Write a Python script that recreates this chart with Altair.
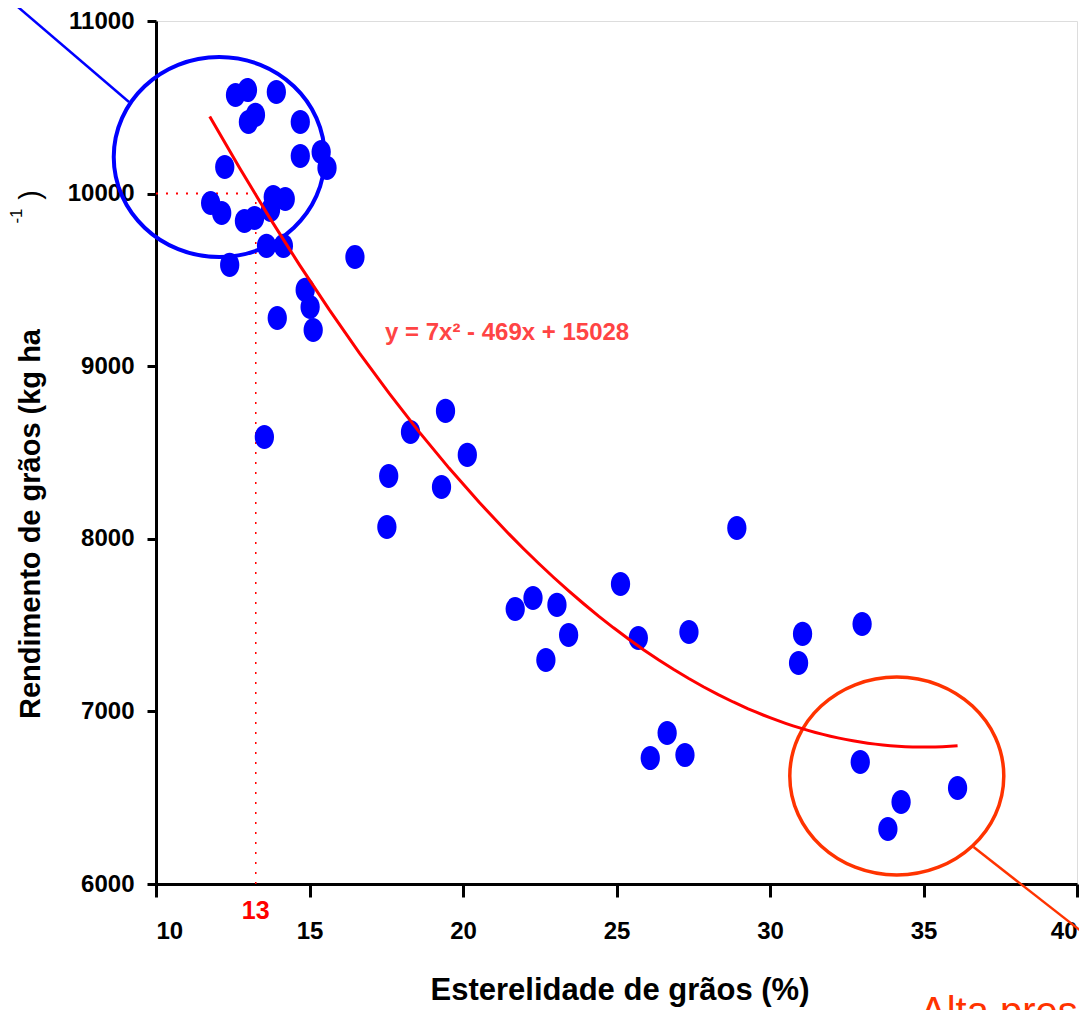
import altair as alt
import pandas as pd

# ---- data ----
esterilidade = [12.59, 12.98, 13.92, 13.01, 13.24, 14.70, 14.70, 15.38, 15.57, 12.24,
                11.78, 12.14, 12.88, 13.21, 13.82, 14.21, 13.73, 13.60, 14.15, 12.40,
                16.48, 14.86, 15.02, 15.12, 13.95, 13.53, 18.29, 19.43, 20.14, 17.58,
                17.52, 19.30, 28.92, 21.70, 22.28, 23.06, 23.44, 22.70, 25.13, 25.71,
                27.36, 26.65, 26.10, 27.23, 31.06, 30.93, 33.00, 32.94, 34.27, 33.84,
                36.11]
rendimento = [10571, 10600, 10589, 10415, 10456, 10415, 10218, 10241, 10149, 10154,
              9946, 9888, 9841, 9859, 9980, 9969, 9905, 9697, 9697, 9587,
              9633, 9442, 9343, 9210, 9279, 8590, 8619, 8741, 8486, 8364,
              8068, 8300, 8063, 7593, 7657, 7617, 7443, 7298, 7738, 7425,
              7460, 6875, 6730, 6747, 7449, 7280, 7506, 6707, 6475, 6319,
              6556]
x_ticks = [10, 15, 20, 25, 30, 35, 40]
y_ticks = [6000, 7000, 8000, 9000, 10000, 11000]
fit_extent = [11.75, 36.11]
ref_x = 13.25
ref_y = 10000
equation = "y = 7x² - 469x + 15028"
x_title = "Esterelidade de grãos (%)"
y_title = "Rendimento de grãos (kg ha"
bottom_note = "Alta pressão"

# annotation shapes (centres)
blue_circle = {"x": [12.06], "y": [10212]}
orange_circle = {"x": [34.13], "y": [6626]}
blue_link = {"x": [9.12], "y": [10531], "x2": [3.94], "y2": [11319]}
orange_link = {"x": [36.63], "y": [6214], "x2": [42.17], "y2": [5444]}

W, H = 921, 863
SANS = "Liberation Sans, Arial, sans-serif"

df = pd.DataFrame({"x": esterilidade, "y": rendimento})

xs = alt.Scale(domain=[10, 40], nice=False, zero=False)
ys = alt.Scale(domain=[6000, 11000], nice=False, zero=False)

x_axis = alt.Axis(values=x_ticks, title=None, grid=False, domainColor="black", domainWidth=3,
                  tickColor="black", tickWidth=3, tickSize=13, labelPadding=22,
                  labelFont=SANS, labelFontWeight="bold", labelFontSize=24, labelColor="black",
                  format="d")
y_axis = alt.Axis(values=y_ticks, title=None, grid=False, domainColor="black", domainWidth=3,
                  tickColor="black", tickWidth=3, tickSize=9, labelPadding=13,
                  labelFont=SANS, labelFontWeight="bold", labelFontSize=24, labelColor="black",
                  format="d")

ellipse_dot = "M -0.8 0 A 0.8 1 0 1 0 0.8 0 A 0.8 1 0 1 0 -0.8 0 Z"

points = alt.Chart(df).mark_point(shape=ellipse_dot, filled=True, size=580, color="#0000FF",
                                  opacity=1, clip=False).encode(
    x=alt.X("x:Q", scale=xs, axis=x_axis),
    y=alt.Y("y:Q", scale=ys, axis=y_axis),
)

curve = alt.Chart(df).transform_regression(
    "x", "y", method="poly", order=2, extent=fit_extent
).mark_line(color="#FF0000", strokeWidth=3).encode(
    x=alt.X("x:Q", scale=xs), y=alt.Y("y:Q", scale=ys)
)

hline = alt.Chart(pd.DataFrame({"x": [10], "x2": [ref_x], "y": [ref_y]})).mark_rule(
    color="#FF0000", strokeWidth=2, strokeDash=[2, 8]
).encode(x=alt.X("x:Q", scale=xs), x2="x2:Q", y=alt.Y("y:Q", scale=ys))

vline = alt.Chart(pd.DataFrame({"x": [ref_x], "y": [6000], "y2": [ref_y]})).mark_rule(
    color="#FF0000", strokeWidth=1.5, strokeDash=[2, 8]
).encode(x=alt.X("x:Q", scale=xs), y=alt.Y("y:Q", scale=ys), y2="y2:Q")

def ring(d, color, size, ratio, width):
    path = f"M -1 0 A 1 {ratio} 0 1 0 1 0 A 1 {ratio} 0 1 0 -1 0 Z"
    return alt.Chart(pd.DataFrame(d)).mark_point(
        shape=path, filled=False, size=size, stroke=color, strokeWidth=width, opacity=1, clip=False
    ).encode(x=alt.X("x:Q", scale=xs), y=alt.Y("y:Q", scale=ys))

def link(d, color, width):
    return alt.Chart(pd.DataFrame(d)).mark_rule(color=color, strokeWidth=width, clip=False).encode(
        x=alt.X("x:Q", scale=xs), y=alt.Y("y:Q", scale=ys), x2="x2:Q", y2="y2:Q")

blue_ring = ring(blue_circle, "#0000FF", 211 ** 2, 0.948, 4)
orange_ring = ring(orange_circle, "#FF3300", 214 ** 2, 0.925, 3.5)
blue_line = link(blue_link, "#0000FF", 2.5)
orange_line = link(orange_link, "#FF3300", 2.5)

label13 = alt.Chart(pd.DataFrame({"x": [ref_x], "t": ["13"]})).mark_text(
    font=SANS, fontWeight="bold", fontSize=25, color="#FF0000", baseline="middle"
).encode(x=alt.X("x:Q", scale=xs), y=alt.value(H + 27), text="t:N")

def text_at(t, px, py, **kw):
    return alt.Chart(pd.DataFrame({"t": [t]})).mark_text(clip=False, **kw).encode(
        x=alt.value(px), y=alt.value(py), text="t:N")

eq_text = text_at(equation, 229, 312, font=SANS, fontWeight="bold", fontSize=24,
                  color="#FF4444", align="left", baseline="middle")
xt = text_at(x_title, 464, 970, font=SANS, fontWeight="bold", fontSize=31,
             color="black", align="center", baseline="middle")
yt = text_at(y_title, -125, 503, font=SANS, fontWeight="bold", fontSize=29,
             color="black", align="center", baseline="middle", angle=270)
yt_sup = text_at("-1", -139, 195, font=SANS, fontSize=17, color="black",
                 align="center", baseline="middle", angle=270)
yt_paren = text_at(")", -125, 174, font=SANS, fontSize=29, color="black",
                   align="center", baseline="middle", angle=270)
note = text_at(bottom_note, 764, 1004, font=SANS, fontSize=40, color="#FF3300",
               align="left", baseline="alphabetic")

chart = alt.layer(
    hline, vline, blue_line, orange_line, blue_ring, orange_ring, points, curve,
    label13, eq_text, xt, yt, yt_sup, yt_paren, note
).properties(
    width=W, height=H,
    autosize=alt.AutoSizeParams(type="none"),
    padding={"left": 148, "top": 13, "right": 2, "bottom": 126},
).configure_view(stroke="black", strokeWidth=3).configure(background="white")

chart.save("out.html", embed_options={"renderer": "svg", "actions": False})
